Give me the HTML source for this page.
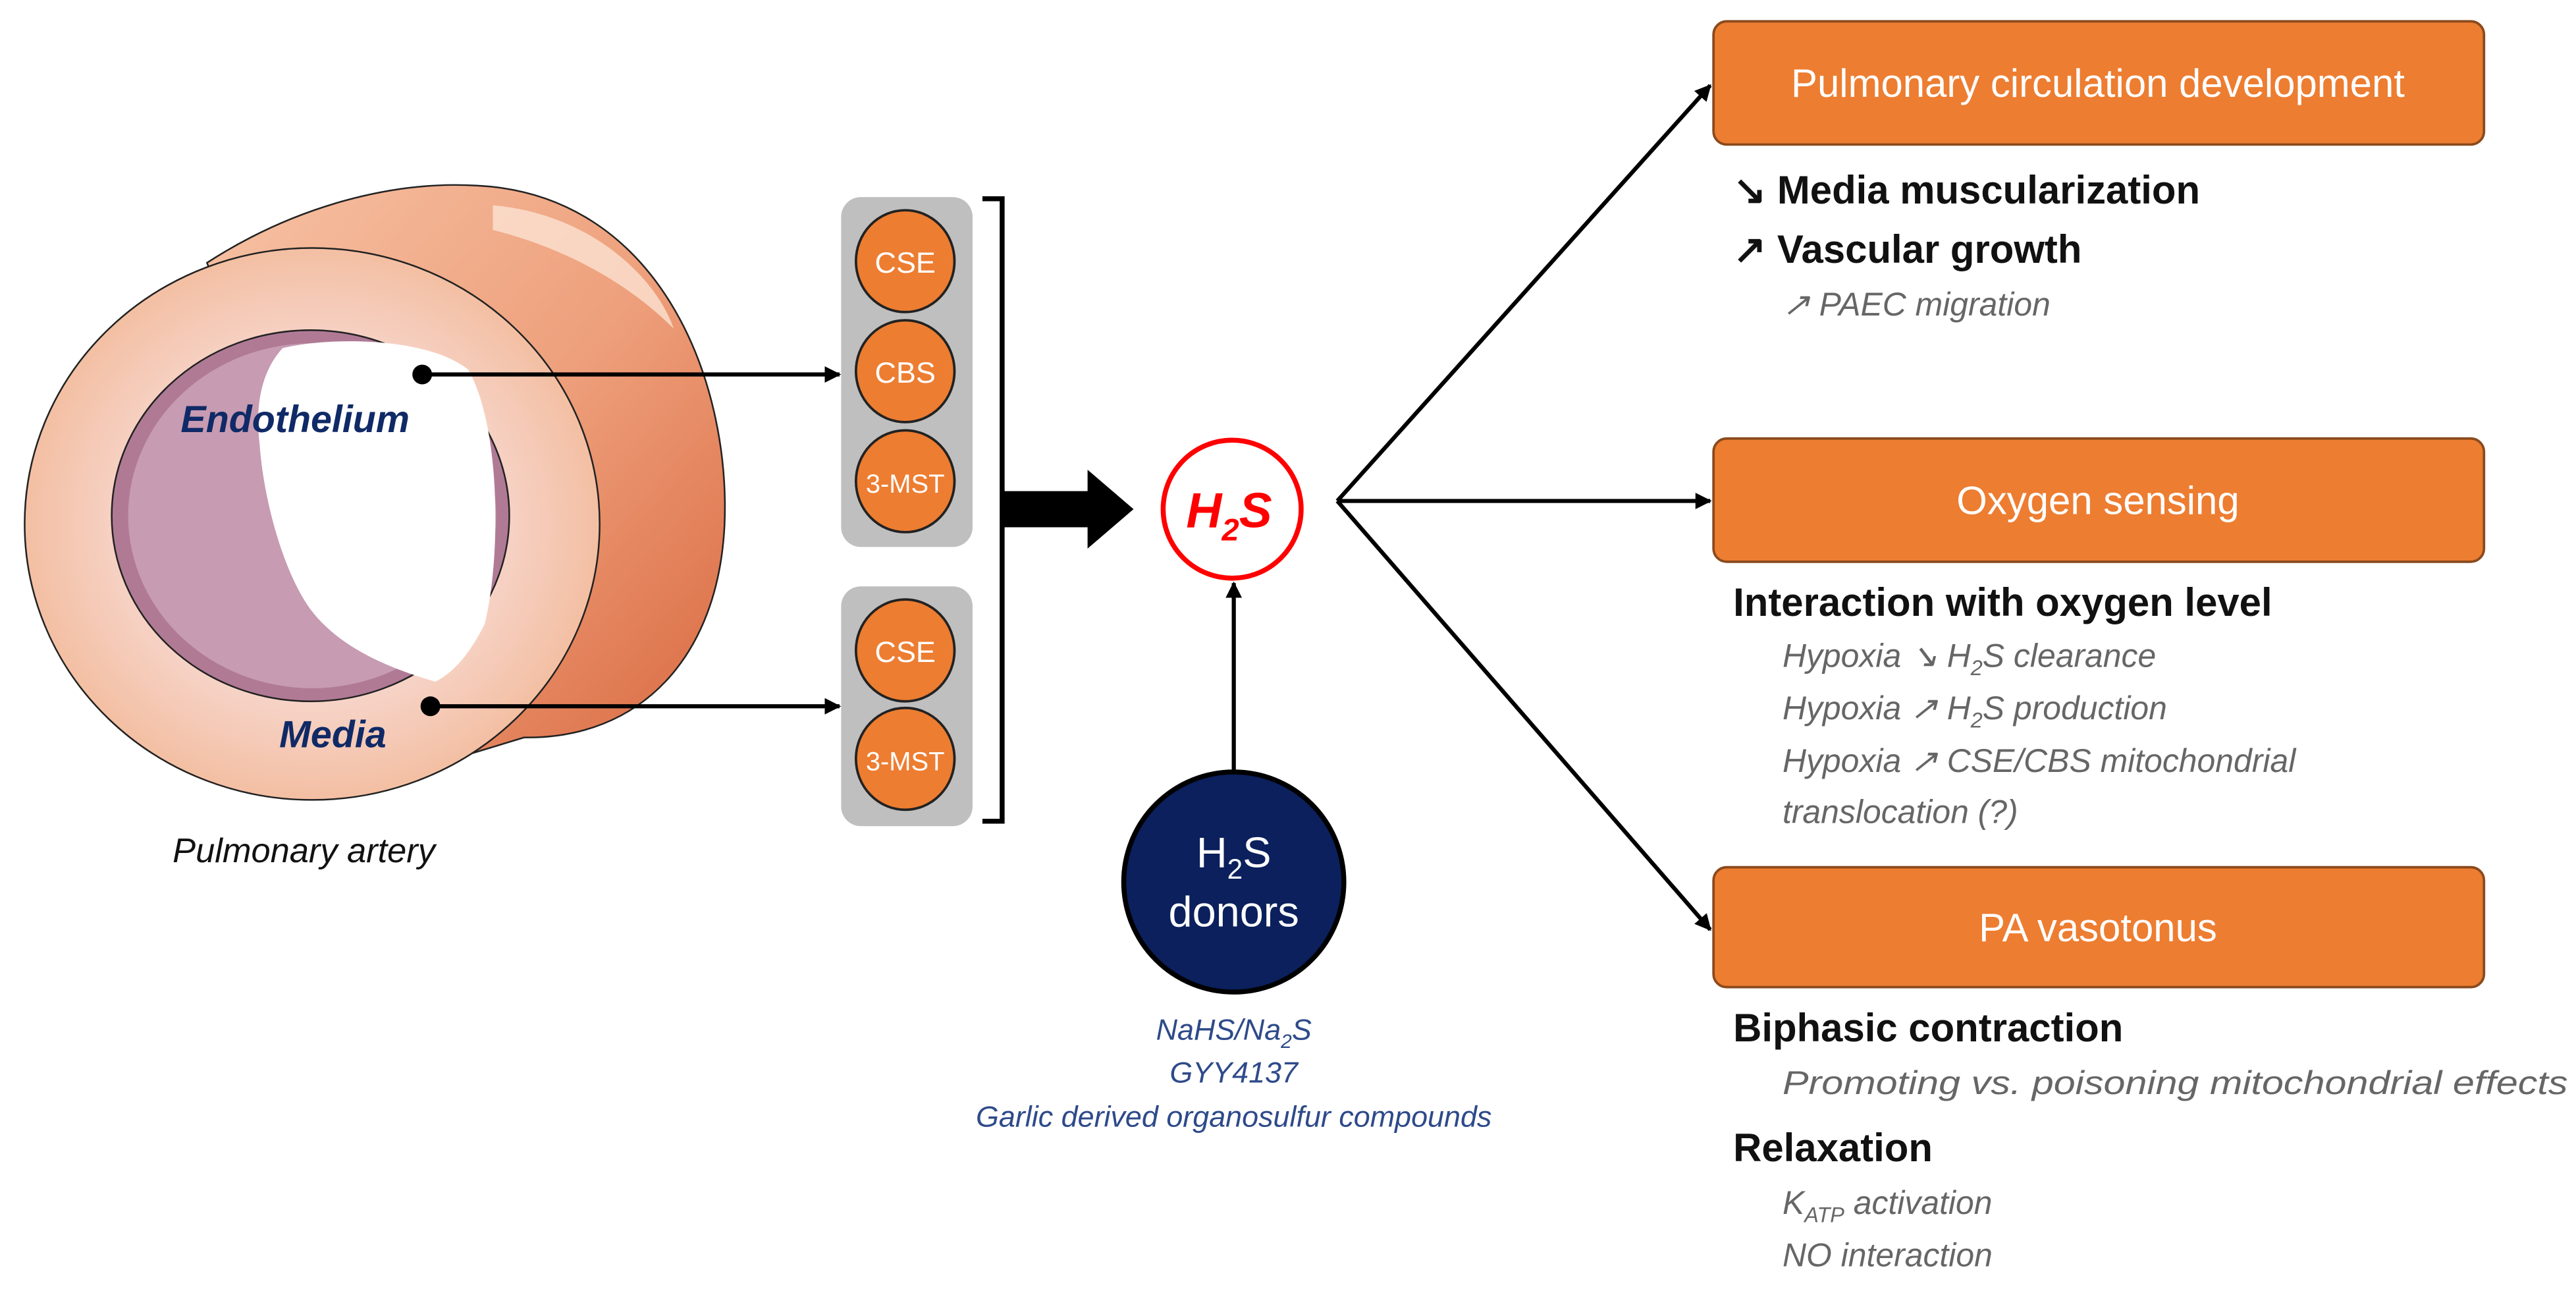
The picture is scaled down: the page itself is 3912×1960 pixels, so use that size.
<!DOCTYPE html>
<html><head><meta charset="utf-8"><style>
html,body{margin:0;padding:0;background:#fff;}
svg{display:block;}
text{font-family:"Liberation Sans",sans-serif;}
</style></head><body>
<svg width="3912" height="1960" viewBox="0 0 1568 786" preserveAspectRatio="none" xmlns="http://www.w3.org/2000/svg">
<defs>
<marker id="ah" markerWidth="10" markerHeight="10" refX="9" refY="5" orient="auto" markerUnits="userSpaceOnUse"><path d="M0,0 L10,5 L0,10 z" fill="#000"/></marker>
<linearGradient id="tube" x1="0" y1="0" x2="1" y2="1"><stop offset="0" stop-color="#f6c2a4"/><stop offset="0.5" stop-color="#eea07c"/><stop offset="1" stop-color="#d9683f"/></linearGradient>
<radialGradient id="wall" cx="0.5" cy="0.5" r="0.5"><stop offset="0.6" stop-color="#f7d6cc"/><stop offset="1" stop-color="#f3bfa3"/></radialGradient>
</defs>
<!-- tube body -->
<path d="M126,160 C180,125 240,110 290,113 C400,118 445,230 441,320 C437,400 390,450 319,449 L250,470 Z" fill="url(#tube)" stroke="#222" stroke-width="1"/>
<path d="M300,125 C360,130 400,170 410,200 C380,170 340,150 300,140 Z" fill="#fbe2d2" opacity="0.8"/>
<!-- front ring -->
<ellipse cx="190" cy="319" rx="175" ry="168" fill="url(#wall)" stroke="#222" stroke-width="1"/>
<ellipse cx="189" cy="314" rx="121" ry="113" fill="#b07a95" stroke="#222" stroke-width="1"/>
<ellipse cx="190" cy="314" rx="112" ry="105" fill="#c79bb2"/>
<path d="M172,212 C200,205 260,205 285,225 C305,260 305,340 295,380 C285,400 275,410 265,415 C230,405 200,390 185,365 C170,340 160,300 158,270 C155,245 160,225 172,212 Z" fill="#fff"/>
<!-- labels on artery -->
<text x="110" y="263" font-size="23" font-weight="bold" font-style="italic" fill="#0f2a66">Endothelium</text>
<text x="170" y="455" font-size="23" font-weight="bold" font-style="italic" fill="#0f2a66">Media</text>
<text x="185" y="525" font-size="21" font-style="italic" fill="#111" text-anchor="middle">Pulmonary artery</text>
<!-- connectors -->
<circle cx="257" cy="228" r="6" fill="#000"/>
<line x1="257" y1="228" x2="511" y2="228" stroke="#000" stroke-width="2.5" marker-end="url(#ah)"/>
<circle cx="262" cy="430" r="6" fill="#000"/>
<line x1="262" y1="430" x2="511" y2="430" stroke="#000" stroke-width="2.5" marker-end="url(#ah)"/>
<!-- gray boxes -->
<rect x="512" y="120" width="80" height="213" rx="12" fill="#bfbfbf"/>
<rect x="512" y="357" width="80" height="146" rx="12" fill="#bfbfbf"/>
<g stroke="#222" stroke-width="1.5" fill="#ed7d31">
<ellipse cx="551" cy="159" rx="30" ry="31"/><ellipse cx="551" cy="226" rx="30" ry="31"/><ellipse cx="551" cy="293" rx="30" ry="31"/>
<ellipse cx="551" cy="396" rx="30" ry="31"/><ellipse cx="551" cy="462" rx="30" ry="31"/>
</g>
<g fill="#fff" font-size="18" text-anchor="middle">
<text x="551" y="166">CSE</text><text x="551" y="233">CBS</text><text x="551" y="300" font-size="16">3-MST</text>
<text x="551" y="403">CSE</text><text x="551" y="469" font-size="16">3-MST</text>
</g>
<!-- bracket -->
<path d="M598,121 L610,121 L610,500 L598,500" fill="none" stroke="#000" stroke-width="3"/>
<!-- big arrow -->
<path d="M610,299 L662,299 L662,286 L690,310 L662,334 L662,321 L610,321 Z" fill="#000"/>
<!-- H2S -->
<circle cx="750" cy="310" r="42" fill="#fff" stroke="#f00" stroke-width="3"/>
<text x="722" y="321" font-size="30" font-weight="bold" font-style="italic" fill="#f00">H<tspan font-size="19" dy="8">2</tspan><tspan dy="-8">S</tspan></text>
<!-- donors -->
<line x1="751" y1="472" x2="751" y2="355" stroke="#000" stroke-width="2.5" marker-end="url(#ah)"/>
<ellipse cx="751" cy="537" rx="67" ry="67" fill="#0b205c" stroke="#000" stroke-width="3"/>
<text x="751" y="528" font-size="26" fill="#fff" text-anchor="middle">H<tspan font-size="17" dy="7">2</tspan><tspan dy="-7">S</tspan></text>
<text x="751" y="564" font-size="26" fill="#fff" text-anchor="middle">donors</text>
<g font-size="18" font-style="italic" fill="#2e4a8a" text-anchor="middle">
<text x="751" y="633">NaHS/Na<tspan font-size="12" dy="5">2</tspan><tspan dy="-5">S</tspan></text>
<text x="751" y="659">GYY4137</text>
<text x="751" y="686">Garlic derived organosulfur compounds</text>
</g>
<!-- right lines -->
<g stroke="#000" stroke-width="2.5" fill="none">
<line x1="814" y1="305" x2="1041" y2="52" marker-end="url(#ah)"/>
<line x1="814" y1="305" x2="1041" y2="305" marker-end="url(#ah)"/>
<line x1="814" y1="305" x2="1041" y2="566" marker-end="url(#ah)"/>
</g>
<!-- orange boxes -->
<g fill="#ed7d31" stroke="#8a4a1c" stroke-width="1.5">
<rect x="1043" y="13" width="469" height="75" rx="8"/>
<rect x="1043" y="267" width="469" height="75" rx="8"/>
<rect x="1043" y="528" width="469" height="73" rx="8"/>
</g>
<g fill="#fff" font-size="24" text-anchor="middle">
<text x="1277" y="59">Pulmonary circulation development</text>
<text x="1277" y="313">Oxygen sensing</text>
<text x="1277" y="573">PA vasotonus</text>
</g>
<g font-size="24" font-weight="bold" fill="#111">
<text x="1055" y="124">↘ Media muscularization</text>
<text x="1055" y="160">↗ Vascular growth</text>
<text x="1055" y="375">Interaction with oxygen level</text>
<text x="1055" y="634">Biphasic contraction</text>
<text x="1055" y="707">Relaxation</text>
</g>
<g font-size="20" font-style="italic" fill="#666">
<text x="1085" y="192">↗ PAEC migration</text>
<text x="1085" y="406">Hypoxia ↘ H<tspan font-size="13" dy="5">2</tspan><tspan dy="-5">S clearance</tspan></text>
<text x="1085" y="438">Hypoxia ↗ H<tspan font-size="13" dy="5">2</tspan><tspan dy="-5">S production</tspan></text>
<text x="1085" y="470">Hypoxia ↗ CSE/CBS mitochondrial</text>
<text x="1085" y="501">translocation (?)</text>
<text x="1085" y="666" textLength="478" lengthAdjust="spacingAndGlyphs">Promoting vs. poisoning mitochondrial effects</text>
<text x="1085" y="739">K<tspan font-size="13" dy="5">ATP</tspan><tspan dy="-5"> activation</tspan></text>
<text x="1085" y="771">NO interaction</text>
</g>
</svg>
</body></html>
